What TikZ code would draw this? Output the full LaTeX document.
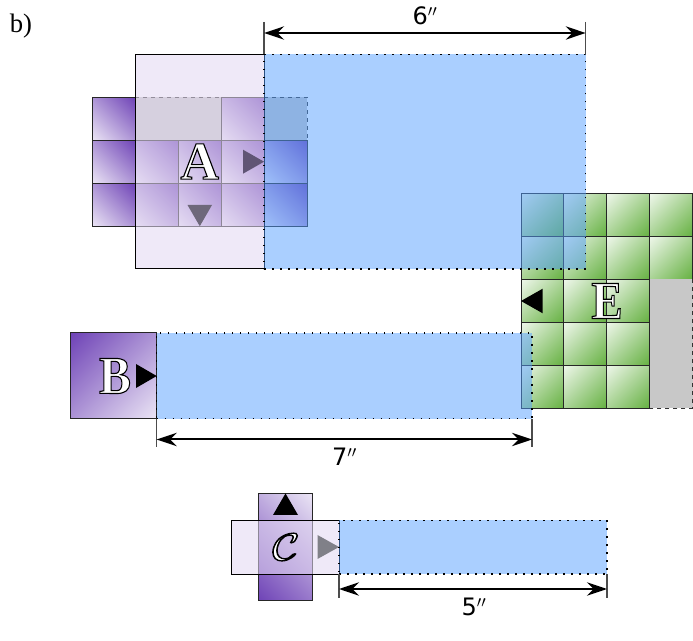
\documentclass[tikz,border=0pt]{standalone}
\usepackage{fontspec}
\setsansfont{DejaVu Sans}
\setmainfont{Liberation Serif}
\usetikzlibrary{arrows.meta}
\definecolor{purp}{RGB}{106,61,180}
\definecolor{grn}{RGB}{84,168,44}
\definecolor{lav}{RGB}{226,215,242}
\definecolor{blu}{RGB}{85,159,255}
\definecolor{gcell}{RGB}{200,200,200}
\newcommand{\outl}[1]{\special{pdf:code q 2 Tr 0.85 w 0 0 0 RG 1 1 1 rg}#1\special{pdf:code Q}}
\pgfdeclareverticalshading{purpdiag}{100bp}{color(0bp)=(white);color(3bp)=(white);color(88bp)=(purp);color(100bp)=(purp)}
\pgfdeclareverticalshading{grndiag}{100bp}{color(0bp)=(grn);color(6bp)=(grn);color(94bp)=(white);color(100bp)=(white)}
\tikzset{
  lw/.style={line width=0.7pt},
  acell/.style={draw=black!85,lw,shading=purpdiag,shading angle=-45},
  bcell/.style={draw=black!85,lw,shading=purpdiag,shading angle=45},
  ccell/.style={draw=black!85,lw,shading=purpdiag,shading angle=135},
  ecell/.style={draw=black!85,lw,shading=grndiag,shading angle=45},
  graycell/.style={fill=gcell},
  overlay/.style={draw=black,lw,fill=lav,fill opacity=.55},
  reach/.style={fill=blu,fill opacity=.5},
  reachline/.style={draw=black,line width=1.1pt,dash pattern=on 1.2pt off 4.8pt},
  tri/.style={fill=black},
  big/.style={inner sep=0pt,font=\bfseries\fontsize{40}{40}\selectfont},
  lab/.style={inner sep=0pt,font=\sffamily\fontsize{18}{20}\selectfont},
  serlab/.style={inner sep=0pt,font=\rmfamily\fontsize{20}{22}\selectfont},
  dim/.style={line width=1.5pt,{Stealth[length=15pt,width=10pt,inset=5pt]}-{Stealth[length=15pt,width=10pt,inset=5pt]}},
  ext/.style={line width=1pt,draw=black!70},
}
\begin{document}
\begin{tikzpicture}[x=0.75pt,y=-0.75pt]
\useasboundingbox (0,0) rectangle (693,641);
% ---------- A
\foreach \x in {92.5,135.4,178.3,221.2,264.1}
  \foreach \y in {140.2,183.2}
    \path[acell] (\x,\y) rectangle ++(42.9,43);
\path[acell] (92.5,97.3) rectangle ++(42.9,42.9);
\path[acell] (221.2,97.3) rectangle ++(42.9,42.9);
\fill[graycell] (135.4,97.3) rectangle (221.2,140.2);
\fill[graycell] (264.1,97.3) rectangle (307,140.2);
\draw[lw,dashed,black!80] (135.4,97.3) -- (221.2,97.3);
\draw[lw,dashed,black!80] (264.1,97.3) -- (307,97.3) -- (307,140.2);
\path[overlay] (135.4,54.4) rectangle (264.1,268.8);
\fill[tri,fill={rgb,255:red,96;green,85;blue,117}] (264.1,161.7) -- (243,149.7) -- (243,173.7) -- cycle;
\fill[tri,fill={rgb,255:red,110;green,104;blue,122}] (199.8,226.2) -- (187.5,205) -- (212,205) -- cycle;
% ---------- E
\foreach \x in {521,563.9,606.8,649.7}
  \foreach \y in {193.7,236.6}
    \path[ecell] (\x,\y) rectangle ++(42.9,42.9);
\foreach \x in {521,563.9,606.8}
  \foreach \y in {279.5,322.4,365.3}
    \path[ecell] (\x,\y) rectangle ++(42.9,42.9);
\fill[graycell] (649.7,279.5) rectangle (692.6,408.2);
\draw[lw,dashed,black!80] (692.6,279.5) -- (692.6,408.2) -- (649.7,408.2);
\fill[tri] (521,301) -- (542.7,288.7) -- (542.7,313.3) -- cycle;
% ---------- B
\path[bcell] (70.8,332.8) rectangle (156.7,418.7);
\fill[tri] (156.7,376) -- (136,364) -- (136,388) -- cycle;
% ---------- C
\path[ccell] (258.7,493.4) rectangle (312.3,600.7);
\fill[tri] (285.5,493.4) -- (273,515) -- (298,515) -- cycle;
\path[overlay] (231.8,520.3) rectangle (339,574);
\fill[tri,fill={rgb,255:red,128;green,128;blue,136}] (339,547) -- (317.5,535) -- (317.5,559) -- cycle;
% ---------- reaches
\path[reach] (264.1,54.4) rectangle (585.7,268.8);
\draw[reachline] (264.1,268.8) -- (585.7,268.8) -- (585.7,54.4) -- (264.1,54.4) -- cycle;
\path[reach] (156.7,332.8) rectangle (532,418.7);
\draw[reachline] (156.7,418.7) -- (532,418.7) -- (532,332.8) -- (156.7,332.8) -- cycle;
\path[reach] (339,520.3) rectangle (607,574);
\draw[reachline] (339,574) -- (607,574) -- (607,520.3) -- (339,520.3) -- cycle;
% ---------- letters
\node[big] (la) at (199.8,161.5) {\outl{A}};
\node[big] (le) at (607,301) {\outl{\scalebox{.88}[1]{E}}};
\node[big] (lb) at (115,376) {\outl{\scalebox{.9}[1]{B}}};
\node[big] (lc) at (286,547) {\outl{\scalebox{1.4}[1.15]{$\mathcal{C}$}}};
% ---------- dimensions
\coordinate (a1) at (264.1,33);
\coordinate (a2) at (585.7,33);
\coordinate (b1) at (156.7,439.5);
\coordinate (b2) at (532,439.5);
\coordinate (c1) at (339,589);
\coordinate (c2) at (607,589);
\draw[ext] (264.1,22) -- (264.1,54.4);
\draw[ext] (585.7,22) -- (585.7,54.4);
\draw[ext] (156.7,418.7) -- (156.7,447);
\draw[ext] (532,418.7) -- (532,447);
\draw[ext] (339,574) -- (339,598);
\draw[ext] (607,574) -- (607,598);
\draw[dim] (a1) -- (a2);
\draw[dim] (b1) -- (b2);
\draw[dim] (c1) -- (c2);
\node[lab] (t6) at (425,16) {6$''$};
\node[lab] (t7) at (344.5,457) {7$''$};
\node[lab] (t5) at (474,607) {5$''$};
\node[serlab] (tb) at (21,26) {b)};
\end{tikzpicture}
\end{document}
